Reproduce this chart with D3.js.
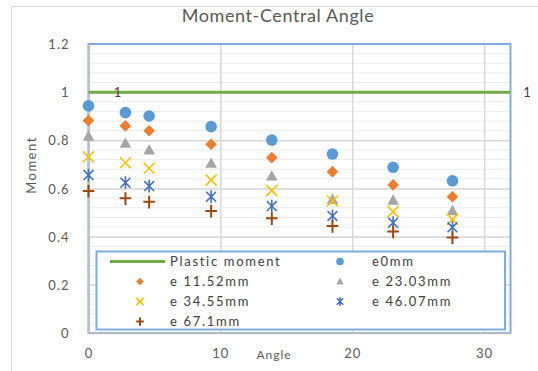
<!DOCTYPE html>
<html><head><meta charset="utf-8">
<script src="https://cdn.jsdelivr.net/npm/d3@7"></script>
<style>html,body{margin:0;padding:0;background:#fff;}svg{display:block;}</style>
</head><body>
<script>
const angles = [0, 2.8, 4.6, 9.3, 13.9, 18.5, 23.1, 27.6];
const e0mm   = [0.943, 0.915, 0.901, 0.857, 0.801, 0.743, 0.688, 0.632];
const e1152  = [0.882, 0.860, 0.840, 0.784, 0.728, 0.670, 0.615, 0.566];
const e2303  = [0.818, 0.788, 0.760, 0.705, 0.652, 0.555, 0.552, 0.508];
const e3455  = [0.732, 0.707, 0.684, 0.635, 0.591, 0.548, 0.504, 0.472];
const e4607  = [0.656, 0.624, 0.610, 0.566, 0.527, 0.486, 0.458, 0.439];
const e671   = [0.590, 0.559, 0.545, 0.507, 0.476, 0.444, 0.421, 0.397];
const plasticMoment = [[0, 1], [32, 1]];
const xTicks = [0, 10, 20, 30];
const yTicks = [0, 0.2, 0.4, 0.6, 0.8, 1, 1.2];
const seriesNames = ["e0mm", "e 11.52mm", "e 23.03mm", "e 34.55mm", "e 46.07mm", "e 67.1mm"];
const seriesValues = [e0mm, e1152, e2303, e3455, e4607, e671];
const seriesShapes = ["circle", "diamond", "triangle", "x", "star", "plus"];
const seriesColors = ["#5b9bd5", "#ed7d31", "#a5a5a5", "#ffc000", "#4472c4", "#9e480e"];

const W = 538, H = 371;
const svg = d3.select("body").append("svg").attr("width", W).attr("height", H);
const font = "Lato, 'Open Sans', sans-serif";

// chart area border
svg.append("rect").attr("x", 11.5).attr("y", 6.5).attr("width", 560).attr("height", 400)
  .attr("fill", "#fff").attr("stroke", "#d9d9d9").attr("stroke-width", 1);

const x = d3.scaleLinear().domain([0, 32]).range([88.5, 510.5]);
const y = d3.scaleLinear().domain([0, 1.2]).range([333, 44]);

// minor horizontal gridlines
const minor = d3.range(0, 1.2001, 0.04);
svg.append("g").selectAll("line").data(minor).join("line")
  .attr("x1", x(0)).attr("x2", x(32)).attr("y1", d => y(d)).attr("y2", d => y(d))
  .attr("stroke", "#ececec").attr("stroke-width", 1);

// major gridlines
svg.append("g").call(d3.axisLeft(y).tickValues(yTicks).tickSize(-(x(32) - x(0))).tickFormat(""))
  .attr("transform", `translate(${x(0)},0)`)
  .call(g => g.select(".domain").remove())
  .call(g => g.selectAll("line").attr("stroke", "#d9d9d9").attr("stroke-width", 1.5));
svg.append("g").call(d3.axisBottom(x).tickValues(xTicks).tickSize(-(y(0) - y(1.2))).tickFormat(""))
  .attr("transform", `translate(0,${y(0)})`)
  .call(g => g.select(".domain").remove())
  .call(g => g.selectAll("line").attr("stroke", "#d9d9d9").attr("stroke-width", 1.5));

// plot area border (blue)
svg.append("rect").attr("x", x(0)).attr("y", y(1.2)).attr("width", x(32) - x(0)).attr("height", y(0) - y(1.2))
  .attr("fill", "none").attr("stroke", "#7eaee0").attr("stroke-width", 2);

// axis lines
svg.append("line").attr("x1", x(0)).attr("x2", x(0)).attr("y1", y(1.2)).attr("y2", y(0)).attr("stroke", "#bfbfbf").attr("stroke-width", 1.5);
svg.append("line").attr("x1", x(0)).attr("x2", x(32)).attr("y1", y(0)).attr("y2", y(0)).attr("stroke", "#bfbfbf").attr("stroke-width", 1.5);

// tick labels
const yAx = svg.append("g").attr("transform", `translate(${x(0) - 16},0)`)
  .call(d3.axisLeft(y).tickValues(yTicks).tickSize(0).tickFormat(d => d3.format("~g")(d)));
yAx.select(".domain").remove();
yAx.selectAll("text").attr("font-family", font).attr("font-size", 13).attr("letter-spacing", 1).attr("fill", "#595959").attr("dy", "0.35em");
const xAx = svg.append("g").attr("transform", `translate(0,${y(0) + 17})`)
  .call(d3.axisBottom(x).tickValues(xTicks).tickSize(0).tickFormat(d3.format("d")));
xAx.select(".domain").remove();
xAx.selectAll("text").attr("font-family", font).attr("font-size", 13).attr("letter-spacing", 1).attr("fill", "#595959").attr("dy", "0.35em");

// title & axis titles
svg.append("text").attr("x", 278).attr("y", 22).attr("text-anchor", "middle")
  .attr("font-family", font).attr("font-size", 18).attr("letter-spacing", 0.6).attr("fill", "#595959").text("Moment-Central Angle");
svg.append("text").attr("transform", "translate(36,165) rotate(-90)").attr("text-anchor", "middle")
  .attr("font-family", font).attr("font-size", 13).attr("letter-spacing", 1.5).attr("fill", "#595959").text("Moment");
svg.append("text").attr("x", 274).attr("y", 359).attr("text-anchor", "middle")
  .attr("font-family", font).attr("font-size", 12).attr("letter-spacing", 1).attr("fill", "#595959").text("Angle");

// plastic moment line
svg.append("path").datum(plasticMoment)
  .attr("d", d3.line().x(d => x(d[0])).y(d => y(d[1])))
  .attr("stroke", "#70ad47").attr("stroke-width", 3).attr("fill", "none");
svg.append("text").attr("x", x(2.2)).attr("y", y(1)).attr("dy", "0.4em").attr("text-anchor", "middle")
  .attr("font-family", font).attr("font-size", 13).attr("fill", "#5a4636").text("1");
svg.append("text").attr("x", 527).attr("y", y(1)).attr("dy", "0.4em").attr("text-anchor", "middle")
  .attr("font-family", font).attr("font-size", 13).attr("fill", "#404040").text("1");

function drawMarker(g, shape, color, s) {
  if (shape === "circle") {
    g.append("circle").attr("r", s).attr("fill", color);
  } else if (shape === "diamond") {
    g.append("path").attr("d", `M0,${-s}L${s},0L0,${s}L${-s},0Z`).attr("fill", color);
  } else if (shape === "triangle") {
    g.append("path").attr("d", `M0,${-s}L${s},${s * 0.8}L${-s},${s * 0.8}Z`).attr("fill", color);
  } else if (shape === "x") {
    const a = s * 0.95;
    g.append("path").attr("d", `M${-a},${-a}L${a},${a}M${a},${-a}L${-a},${a}`).attr("stroke", color).attr("stroke-width", 1.6).attr("fill", "none");
  } else if (shape === "star") {
    const a = s * 0.85;
    g.append("path").attr("d", `M${-a},${-a}L${a},${a}M${a},${-a}L${-a},${a}M0,${-s * 1.1}L0,${s * 1.1}`).attr("stroke", color).attr("stroke-width", 1.6).attr("fill", "none");
  } else if (shape === "plus") {
    g.append("path").attr("d", `M${-s},0L${s},0M0,${-s * 1.05}L0,${s * 1.15}`).attr("stroke", color).attr("stroke-width", 2).attr("fill", "none");
  }
}

// draw series
seriesValues.forEach((vals, i) => {
  const g = svg.append("g");
  vals.forEach((v, j) => {
    const m = g.append("g").attr("transform", `translate(${x(angles[j])},${y(v)})`);
    drawMarker(m, seriesShapes[i], seriesColors[i], 5.8);
  });
});

// legend
const lg = svg.append("g");
lg.append("rect").attr("x", 96.5).attr("y", 251.5).attr("width", 408.5).attr("height", 78)
  .attr("fill", "#fff").attr("stroke", "#7eaee0").attr("stroke-width", 2);
const rowY = [261.5, 281.5, 301.5, 321.5];
const colMark = [140, 340], colText = [170, 372];
const entries = [{name: "Plastic moment", shape: "line", color: "#70ad47"}]
  .concat(seriesNames.map((n, i) => ({name: n, shape: seriesShapes[i], color: seriesColors[i]})));
entries.forEach((e, k) => {
  const r = Math.floor(k / 2), c = k % 2;
  const cy = rowY[r];
  if (e.shape === "line") {
    lg.append("line").attr("x1", 110).attr("x2", 165).attr("y1", cy).attr("y2", cy)
      .attr("stroke", e.color).attr("stroke-width", 3);
  } else {
    const m = lg.append("g").attr("transform", `translate(${colMark[c]},${cy})`);
    drawMarker(m, e.shape, e.color, 3.8);
  }
  lg.append("text").attr("x", colText[c]).attr("y", cy).attr("dy", "0.35em")
    .attr("font-family", font).attr("font-size", 13).attr("letter-spacing", 1.7).attr("fill", "#404040").text(e.name);
});
</script>
</body></html>
